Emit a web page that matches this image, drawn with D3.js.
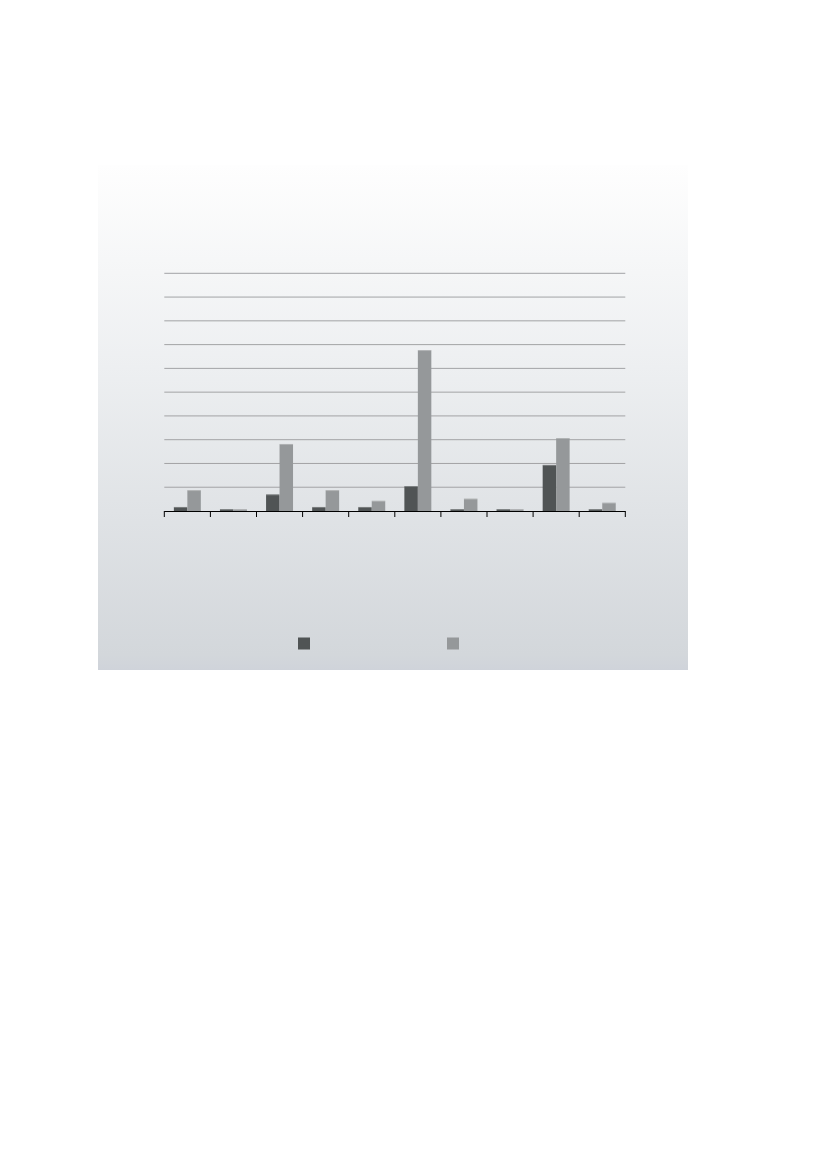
<!DOCTYPE html>
<html>
<head>
<meta charset="utf-8">
<script src="https://cdn.jsdelivr.net/npm/d3@7"></script>
<style>
  body { margin: 0; background: #fff; }
  svg { display: block; }
</style>
</head>
<body>
<div id="container"></div>
<script>
// DATA - no labels are printed in the original, only the marks
const categories = ["c1", "c2", "c3", "c4", "c5", "c6", "c7", "c8", "c9", "c10"];
const seriesNames = ["series1", "series2"];
const series1 = [1.7, 0.8, 7.0, 1.7, 1.7, 10.5, 0.8, 0.8, 19.4, 0.8];
const series2 = [8.8, 0.8, 28.2, 8.8, 4.3, 67.7, 5.2, 0.8, 30.7, 3.5];
const yTicks = [0, 10, 20, 30, 40, 50, 60, 70, 80, 90, 100];

const width = 827, height = 1169;
const panel = { x: 98, y: 165, w: 590, h: 505 };
const plot = { left: 164.3, right: 625.3, top: 273.3, bottom: 511 };
const colors = { series1: "#505455", series2: "#95989a" };

const svg = d3.select("#container")
  .append("svg")
  .attr("width", width)
  .attr("height", height);

// background gradient panel
const defs = svg.append("defs");
const grad = defs.append("linearGradient")
  .attr("id", "bg")
  .attr("x1", 0).attr("y1", 0).attr("x2", 0).attr("y2", 1);
grad.append("stop").attr("offset", "0%").attr("stop-color", "#fefefe");
grad.append("stop").attr("offset", "40%").attr("stop-color", "#edeff1");
grad.append("stop").attr("offset", "97%").attr("stop-color", "#d3d7db");
grad.append("stop").attr("offset", "100%").attr("stop-color", "#cfd3da");

svg.append("rect")
  .attr("x", panel.x).attr("y", panel.y)
  .attr("width", panel.w).attr("height", panel.h)
  .attr("fill", "url(#bg)");

// SCALES
const x0 = d3.scaleBand()
  .domain(categories)
  .range([plot.left, plot.right])
  .padding(0);

const x1 = d3.scaleBand()
  .domain(seriesNames)
  .range([0, x0.bandwidth()])
  .paddingInner(0)
  .paddingOuter(0.71);

const y = d3.scaleLinear()
  .domain([0, 100])
  .range([plot.bottom, plot.top]);

// gridlines
svg.append("g")
  .selectAll("line")
  .data(yTicks.slice(1))
  .join("line")
  .attr("x1", plot.left).attr("x2", plot.right)
  .attr("y1", d => y(d)).attr("y2", d => y(d))
  .attr("stroke", "#a2a3a5")
  .attr("stroke-width", 1);

// bars
const rows = categories.map((c, i) => ({ cat: c, values: [
  { key: "series1", value: series1[i] },
  { key: "series2", value: series2[i] }
]}));

const groups = svg.append("g")
  .selectAll("g")
  .data(rows)
  .join("g")
  .attr("transform", d => `translate(${x0(d.cat)},0)`);

groups.selectAll("rect")
  .data(d => d.values)
  .join("rect")
  .attr("x", d => x1(d.key))
  .attr("y", d => y(d.value))
  .attr("width", x1.bandwidth())
  .attr("height", d => y(0) - y(d.value))
  .attr("fill", d => colors[d.key]);

// light edge on the top of each bar
groups.selectAll("line")
  .data(d => d.values)
  .join("line")
  .attr("x1", d => x1(d.key))
  .attr("x2", d => x1(d.key) + x1.bandwidth())
  .attr("y1", d => y(d.value) + 0.5)
  .attr("y2", d => y(d.value) + 0.5)
  .attr("stroke", "#ffffff")
  .attr("stroke-opacity", 0.25);

// x axis, no labels
const xAxis = d3.axisBottom(x0).tickSize(6).tickFormat("");
const axisG = svg.append("g")
  .attr("transform", `translate(0,${plot.bottom})`)
  .call(xAxis);
axisG.selectAll(".tick").remove();
axisG.select(".domain").remove();

axisG.append("line")
  .attr("x1", plot.left).attr("x2", plot.right)
  .attr("y1", 0.5).attr("y2", 0.5)
  .attr("stroke", "#000").attr("stroke-width", 1);

// ticks at band boundaries
const boundaries = categories.map(c => x0(c)).concat([plot.right]);
axisG.selectAll(".bt")
  .data(boundaries)
  .join("line")
  .attr("class", "bt")
  .attr("x1", d => d).attr("x2", d => d)
  .attr("y1", 0).attr("y2", 6)
  .attr("stroke", "#000").attr("stroke-width", 1);

// legend (swatches only)
const legendX = d3.scaleOrdinal().domain(seriesNames).range([298, 447]);
svg.append("g")
  .selectAll("rect")
  .data(seriesNames)
  .join("rect")
  .attr("x", d => legendX(d))
  .attr("y", 637.5)
  .attr("width", 12)
  .attr("height", 12)
  .attr("fill", d => colors[d]);
</script>
</body>
</html>
